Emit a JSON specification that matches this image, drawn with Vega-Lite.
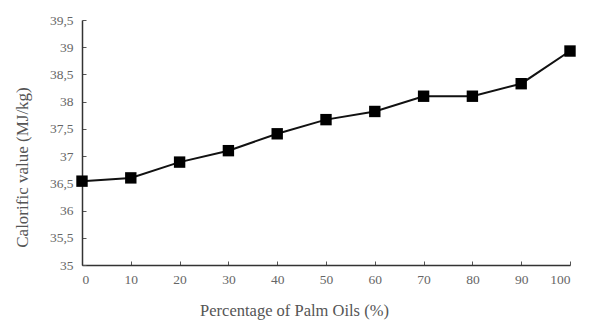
{
  "$schema": "https://vega.github.io/schema/vega-lite/v6.json",
  "width": 488,
  "height": 245,
  "autosize": {"type": "none"},
  "padding": {"left": 82, "top": 20, "right": 21, "bottom": 57},
  "background": "white",
  "config": {"view": {"stroke": null}},
  "data": {"values": [
    {"pct": 0, "cv": 36.54},
    {"pct": 10, "cv": 36.6},
    {"pct": 20, "cv": 36.89},
    {"pct": 30, "cv": 37.1},
    {"pct": 40, "cv": 37.41},
    {"pct": 50, "cv": 37.67},
    {"pct": 60, "cv": 37.82},
    {"pct": 70, "cv": 38.1},
    {"pct": 80, "cv": 38.1},
    {"pct": 90, "cv": 38.33},
    {"pct": 100, "cv": 38.93}
  ]},
  "encoding": {
    "x": {"field": "pct", "type": "quantitative",
      "scale": {"domain": [0, 100], "nice": false},
      "axis": {"title": "Percentage of Palm Oils (%)", "values": [0,10,20,30,40,50,60,70,80,90,100],
        "grid": false, "domainColor": "#333", "domainWidth": 1.5, "tickColor": "#555", "tickSize": -4,
        "labelFont": "Liberation Serif", "labelFontSize": 13.5, "labelColor": "#666", "labelPadding": 11,
        "titleFont": "Liberation Serif", "titleFontSize": 16.5, "titleFontWeight": "normal", "titleColor": "#555", "titlePadding": 17,
        "titleX": 212, "titleAnchor": "middle"}},
    "y": {"field": "cv", "type": "quantitative",
      "scale": {"domain": [35, 39.5], "nice": false, "zero": false},
      "axis": {"title": "Calorific value  (MJ/kg)", "values": [35,35.5,36,36.5,37,37.5,38,38.5,39,39.5],
        "labelExpr": "replace(format(datum.value, '.1~f'), '.', ',')",
        "grid": false, "domainColor": "#333", "domainWidth": 1.5, "tickColor": "#555", "tickSize": -4,
        "labelFont": "Liberation Serif", "labelFontSize": 13.5, "labelColor": "#666", "labelPadding": 13,
        "titleFont": "Liberation Serif", "titleFontSize": 17, "titleFontWeight": "normal", "titleColor": "#555", "titlePadding": 18,
        "titleY": 147, "titleAnchor": "middle"}}
  },
  "layer": [
    {"mark": {"type": "line", "color": "#111", "strokeWidth": 2}},
    {"mark": {"type": "point", "shape": "square", "filled": true, "color": "#000", "opacity": 1, "size": 130}}
  ]
}
